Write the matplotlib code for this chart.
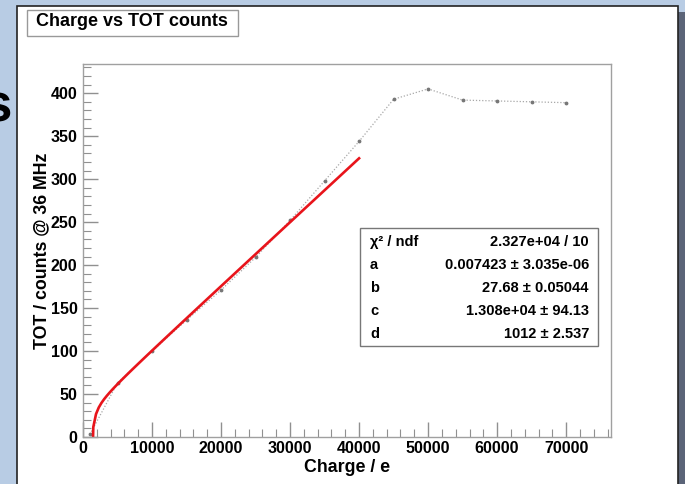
import numpy as np
import matplotlib
matplotlib.use("Agg")
import matplotlib.pyplot as plt
from matplotlib.patches import Rectangle
from matplotlib.ticker import MultipleLocator

plt.rcParams['font.family'] = ['Liberation Sans', 'DejaVu Sans']
plt.rcParams['font.weight'] = 'bold'

# measured points (charge in e, TOT counts)
charge = [1000, 5000, 10000, 15000, 20000, 25000, 30000, 35000,
          40000, 45000, 50000, 55000, 60000, 65000, 70000]
tot = [3, 63, 100, 136, 171, 209, 252, 298,
       344, 393, 405, 392, 391, 390, 389]

# fit parameters from the stats box: f(x) = a*x + b - c/(x - d)
fit_a, fit_b, fit_c, fit_d = 0.007423, 27.68, 1.308e4, 1012.0
fit_range = (1100, 40000)

stat_labels = ["χ² / ndf", "a", "b", "c", "d"]
stat_values = ["2.327e+04 / 10", "0.007423 ± 3.035e-06", "27.68 ± 0.05044",
               "1.308e+04 ± 94.13", "1012 ± 2.537"]

W, H = 685, 484
fig = plt.figure(figsize=(W / 100, H / 100), dpi=100, facecolor='#b8cce4')

def fx(px):
    return px / W

def fy(py):
    return 1 - py / H

# slide panel, its shadow and a stray letter from the slide
fig.patches.append(Rectangle((fx(678), 0), fx(7), fy(12), transform=fig.transFigure,
                             facecolor='#5b6478', edgecolor='none', zorder=-3))
fig.patches.append(Rectangle((fx(17), -0.01), fx(661), fy(6) + 0.01, transform=fig.transFigure,
                             facecolor='white', edgecolor='#222222', lw=1.2, zorder=-2))
fig.text(fx(-18), fy(107), "s", fontsize=38, fontweight='bold', va='center', ha='left', zorder=-1)

ax = fig.add_axes([fx(83), fy(437), fx(611 - 83), fy(64) - fy(437)])
ax.set_facecolor('white')
for s in ax.spines.values():
    s.set_color('#a0a0a0')
    s.set_linewidth(1.0)

ax.plot(charge, tot, color='#a8a8a8', lw=0.9, ls=(0, (1, 1.5)),
        marker='.', ms=3.5, mfc='#777777', mec='#777777')

xf = np.linspace(fit_range[0], fit_range[1], 100)
yf = fit_a * xf + fit_b - fit_c / (xf - fit_d)
ax.plot(xf, yf, color='#e8141b', lw=1.9)

ax.set_xlim(0, 76500)
ax.set_ylim(0, 434)
ax.xaxis.set_major_locator(MultipleLocator(10000))
ax.xaxis.set_minor_locator(MultipleLocator(2000))
ax.yaxis.set_major_locator(MultipleLocator(50))
ax.yaxis.set_minor_locator(MultipleLocator(10))
ax.tick_params(which='both', direction='in', color='#909090', top=False, right=False,
               labelsize=11.5, labelcolor='black')
ax.tick_params(which='major', length=11, width=1.0)
ax.tick_params(which='minor', length=5.5, width=0.8)
ax.tick_params(axis='x', pad=3)
ax.tick_params(axis='y', pad=4)
for lab in ax.get_xticklabels() + ax.get_yticklabels():
    lab.set_fontweight('bold')

ax.set_xlabel("Charge / e", fontsize=12.8, fontweight='bold', labelpad=2)
ax.set_ylabel("TOT / counts @ 36 MHz", fontsize=12.8, fontweight='bold', labelpad=0)

# title box
fig.patches.append(Rectangle((fx(27), fy(36)), fx(211), fy(10) - fy(36), transform=fig.transFigure,
                             facecolor='white', edgecolor='#999999', lw=1.0, zorder=4))
fig.text(fx(132), fy(22), "Charge vs TOT counts", fontsize=13, fontweight='bold',
         ha='center', va='center', zorder=5)

# fit statistics box
fig.patches.append(Rectangle((fx(360), fy(346)), fx(238), fy(228) - fy(346), transform=fig.transFigure,
                             facecolor='white', edgecolor='#777777', lw=1.0, zorder=4))
row_y = [242, 265, 288, 311, 334]
for lbl, val, ry in zip(stat_labels, stat_values, row_y):
    fig.text(fx(370), fy(ry), lbl, fontsize=10.5, fontweight='bold', ha='left', va='center', zorder=5)
    fig.text(fx(589), fy(ry), val, fontsize=10.5, fontweight='bold', ha='right', va='center', zorder=5)

fig.savefig("out.png", dpi=100, facecolor=fig.get_facecolor())
